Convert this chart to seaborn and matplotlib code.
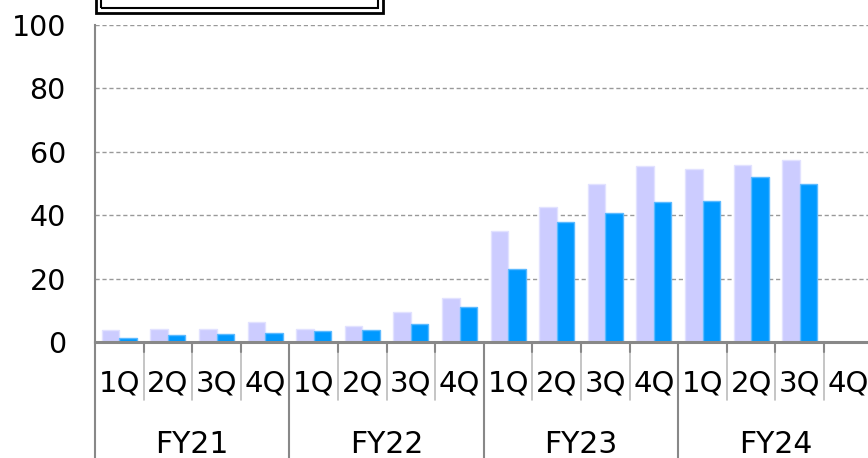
import numpy as np
import pandas as pd
import matplotlib
matplotlib.use("Agg")
import matplotlib.pyplot as plt
from matplotlib.patches import Rectangle
import seaborn as sns

# quarterly values (FY24 4Q not reported yet)
years = ["FY21", "FY22", "FY23", "FY24"]
quarters = ["1Q", "2Q", "3Q", "4Q"]
series_names = ["Series 1", "Series 2"]
light_values = [3.8, 4.0, 4.1, 6.4, 4.1, 5.0, 9.6, 14.0,
                34.9, 42.7, 50.0, 55.6, 54.5, 55.7, 57.4, np.nan]
blue_values = [1.3, 2.3, 2.6, 2.9, 3.5, 3.8, 5.6, 11.0,
               23.1, 37.9, 40.8, 44.3, 44.5, 52.1, 50.0, np.nan]
y_ticks = [0, 20, 40, 60, 80, 100]

periods = [f"{y} {q}" for y in years for q in quarters]
df = pd.DataFrame({
    "period": periods * 2,
    "series": [series_names[0]] * len(periods) + [series_names[1]] * len(periods),
    "value": light_values + blue_values,
})

sns.set_style("white")
plt.rcParams["font.family"] = ["DejaVu Sans"]
plt.rcParams["text.color"] = "black"

W, H = 868, 458
fig = plt.figure(figsize=(W / 100, H / 100), dpi=100)
ax = fig.add_axes([95 / W, 116 / H, 1 - 95 / W, 317 / H])

sns.barplot(data=df, x="period", y="value", hue="series", order=periods,
            hue_order=series_names, palette=["#CCCCFF", "#0099FF"],
            saturation=1, width=0.72, legend=False, ax=ax)

for cont, ec in zip(ax.containers, ["#E2E2FF", "#5CBAFF"]):
    for bar in cont:
        bar.set_edgecolor(ec)
        bar.set_linewidth(1)

cat_w = 48.6
ax.set_xlim(-0.5, -0.5 + (W - 95) / cat_w)
ax.set_ylim(0, 100)
ax.set_yticks(y_ticks)
ax.set_xlabel("")
ax.set_ylabel("")
ax.tick_params(axis="x", length=0, labelbottom=False)
ax.tick_params(axis="y", length=7, width=1, color="#999999", pad=14,
               labelsize=20.5, labelcolor="black")

ax.set_axisbelow(True)
ax.yaxis.grid(True, linestyle=(0, (3, 2)), color="#999999", linewidth=1)
ax.xaxis.grid(False)
for side in ["top", "right"]:
    ax.spines[side].set_visible(False)
ax.spines["left"].set_color("#888888")
ax.spines["left"].set_linewidth(1.5)
ax.spines["bottom"].set_color("#888888")
ax.spines["bottom"].set_linewidth(2.2)

# two-level category axis drawn below the plot
trans = ax.get_xaxis_transform()
for i, p in enumerate(periods):
    yr, q = p.split()
    ax.text(i, -0.132, q, transform=trans, ha="center", va="center",
            fontsize=21, color="black", clip_on=False)
    if i % 4 != 0:
        ax.plot([i - 0.5, i - 0.5], [0, -0.183], transform=trans,
                color="#BBBBBB", lw=1.2, clip_on=False)
        ax.plot([i - 0.5, i - 0.5], [0, -0.03], transform=trans,
                color="#888888", lw=1.5, clip_on=False)
for j, yr in enumerate(years):
    ax.text(j * 4 + 1.5, -0.322, yr, transform=trans, ha="center",
            va="center", fontsize=21.5, color="black", clip_on=False)
    ax.plot([j * 4 - 0.5, j * 4 - 0.5], [0, -0.4], transform=trans,
            color="#888888", lw=1.5, clip_on=False)
ax.plot([15.5, 15.5], [0, -0.4], transform=trans, color="#888888", lw=1.5,
        clip_on=False)

# legend frame, mostly cropped off the top of the picture
fig.add_artist(Rectangle((96 / W, (H - 13) / H), (383 - 96) / W, 30 / H,
                         transform=fig.transFigure, facecolor="white",
                         edgecolor="black", linewidth=2))
fig.add_artist(Rectangle((101 / W, (H - 7.5) / H), (378 - 101) / W, 30 / H,
                         transform=fig.transFigure, facecolor="none",
                         edgecolor="black", linewidth=1.5))

fig.savefig("out.png", dpi=100)
